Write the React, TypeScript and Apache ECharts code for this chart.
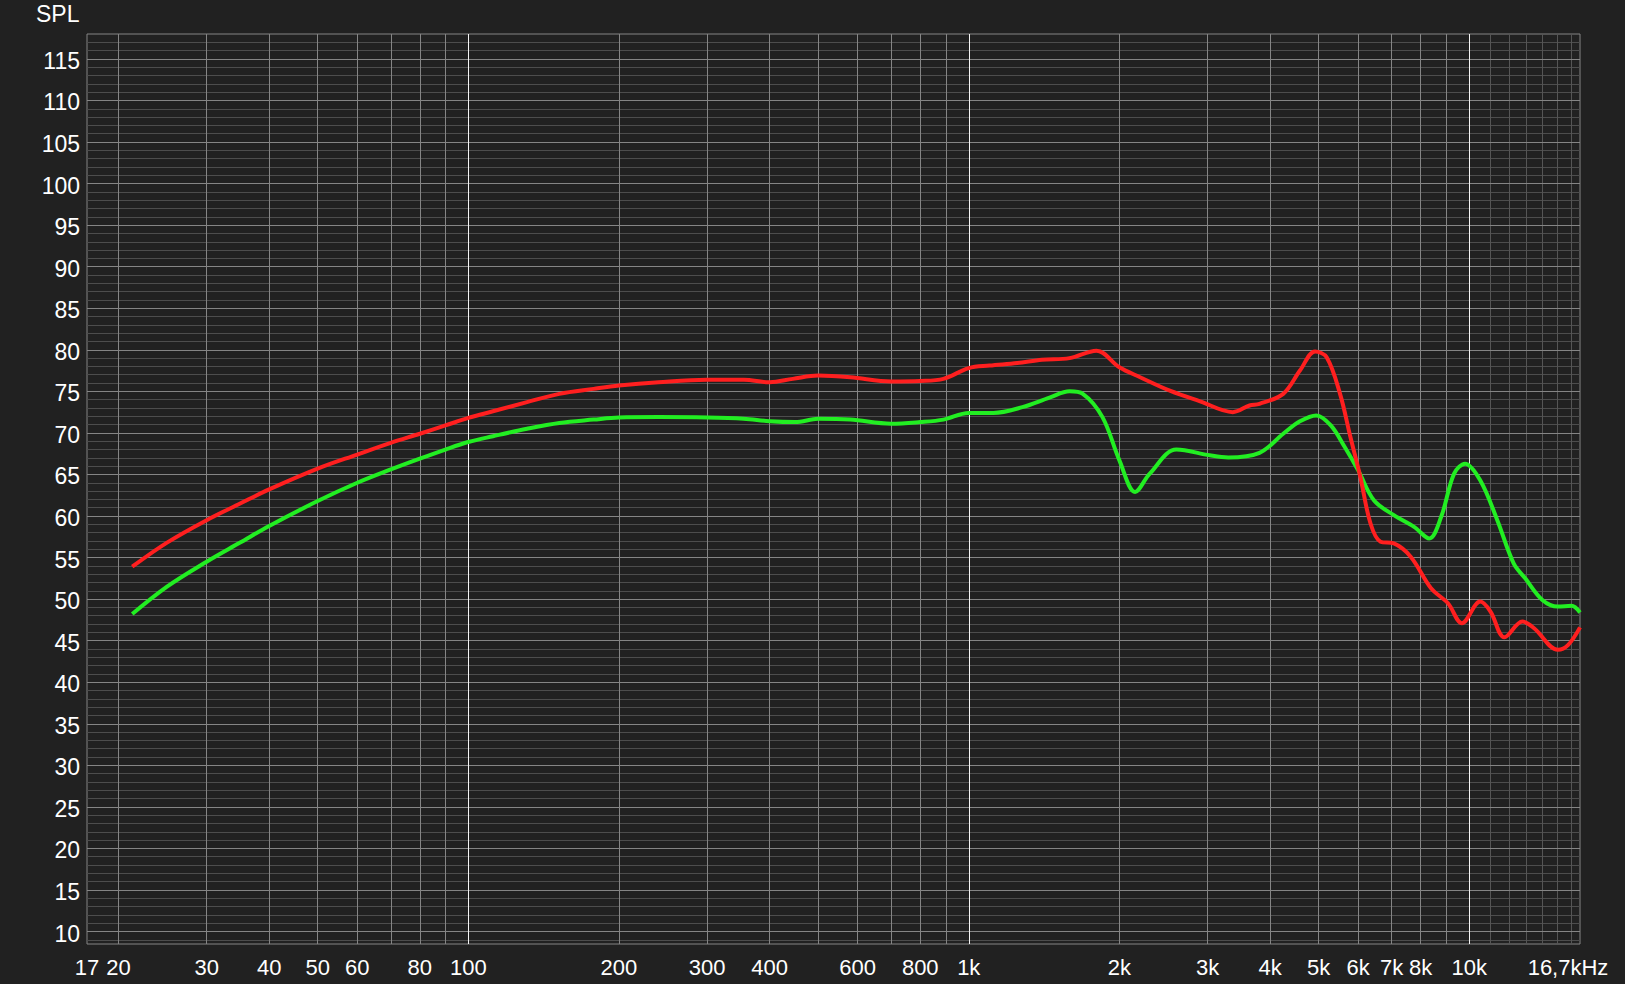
import React, { useEffect, useRef } from "react";
import * as echarts from "echarts";

// Frequency response (Hz -> dB SPL)
const FREQ_RED = [21.3, 25, 30, 35, 40, 50, 60, 70, 80, 90, 100, 112, 131, 152, 178, 200, 240, 300, 355, 400, 445, 500, 580, 700, 800, 890, 1000, 1100, 1250, 1400, 1590, 1800, 2000, 2200, 2530, 2900, 3370, 3640, 3810, 4250, 4590, 4920, 5190, 5520, 5790, 6060, 6350, 6650, 7070, 7640, 8390, 9070, 9670, 10520, 11030, 11760, 12770, 13480, 15040, 15770, 16650];
const SPL_RED = [53.9, 56.8, 59.5, 61.5, 63.2, 65.7, 67.4, 68.8, 69.9, 70.9, 71.8, 72.6, 73.7, 74.7, 75.3, 75.7, 76.1, 76.4, 76.4, 76.1, 76.5, 76.9, 76.7, 76.2, 76.25, 76.5, 77.8, 78.1, 78.4, 78.8, 79.0, 79.9, 77.9, 76.7, 75.05, 73.8, 72.5, 73.3, 73.5, 74.7, 77.5, 79.8, 79.1, 74.7, 69.5, 64.7, 59.1, 56.9, 56.7, 55.1, 51.3, 49.5, 47.1, 49.7, 48.5, 45.4, 47.3, 46.5, 43.9, 44.5, 46.6];

const FREQ_GREEN = [21.3, 25, 30, 35, 40, 50, 60, 70, 80, 90, 100, 112, 131, 152, 178, 200, 240, 300, 355, 400, 450, 500, 580, 700, 800, 890, 1000, 1120, 1280, 1450, 1590, 1690, 1850, 2000, 2150, 2300, 2600, 3030, 3300, 3810, 4250, 4590, 4950, 5290, 5640, 6000, 6450, 7070, 7760, 8320, 8790, 9330, 9810, 10520, 11380, 12270, 12940, 14000, 15040, 16010, 16650];
const SPL_GREEN = [48.2, 51.5, 54.5, 56.8, 58.8, 61.8, 64.0, 65.6, 66.9, 68.0, 68.9, 69.6, 70.5, 71.2, 71.6, 71.85, 71.9, 71.85, 71.7, 71.4, 71.3, 71.7, 71.6, 71.1, 71.3, 71.6, 72.4, 72.4, 73.1, 74.25, 75.0, 74.7, 71.9, 66.7, 62.9, 65.1, 68.0, 67.3, 67.05, 67.6, 69.9, 71.4, 72.1, 70.9, 68.3, 65.5, 61.9, 60.1, 58.7, 57.3, 59.9, 65.1, 66.3, 64.3, 59.5, 54.3, 52.5, 49.9, 49.1, 49.2, 48.4];

// Axes
const X_MIN = 17.3;
const X_MAX = 16650;
const Y_MIN = 8.5;
const Y_MAX = 118;
const Y_MAJOR = [10, 15, 20, 25, 30, 35, 40, 45, 50, 55, 60, 65, 70, 75, 80, 85, 90, 95, 100, 105, 110, 115];
const Y_MINOR = [9, 11, 12, 13, 14, 16, 17, 18, 19, 21, 22, 23, 24, 26, 27, 28, 29, 31, 32, 33, 34, 36, 37, 38, 39, 41, 42, 43, 44, 46, 47, 48, 49, 51, 52, 53, 54, 56, 57, 58, 59, 61, 62, 63, 64, 66, 67, 68, 69, 71, 72, 73, 74, 76, 77, 78, 79, 81, 82, 83, 84, 86, 87, 88, 89, 91, 92, 93, 94, 96, 97, 98, 99, 101, 102, 103, 104, 106, 107, 108, 109, 111, 112, 113, 114, 116, 117];
const X_GRID = [20, 30, 40, 50, 60, 70, 80, 90, 200, 300, 400, 500, 600, 700, 800, 900, 2000, 3000, 4000, 5000, 6000, 7000, 8000, 9000];
const X_GRID_WHITE = [100, 1000, 10000];
const X_GRID_DIM = [11000, 12000, 13000, 14000, 15000, 16000];
const X_LABEL_FREQS = [X_MIN, 20, 30, 40, 50, 60, 80, 100, 200, 300, 400, 600, 800, 1000, 2000, 3000, 4000, 5000, 6000, 7000, 8000, 10000, X_MAX];
const X_LABEL_TEXTS = ["17", "20", "30", "40", "50", "60", "80", "100", "200", "300", "400", "600", "800", "1k", "2k", "3k", "4k", "5k", "6k", "7k", "8k", "10k", "16,7kHz"];

const FONT = '"Liberation Sans", Arial, sans-serif';
const BG = "#212121";
const GRID_GRAY = "#858585";
const GRID_MINOR = "#4d4d4d";
const GRID_DIM = "#555555";

function lineSeries(name: string, values: number[], axis: "x" | "y", color: string, z: number, width = 1) {
  return {
    name,
    type: "line",
    data: [],
    silent: true,
    z,
    markLine: {
      silent: true,
      symbol: "none",
      z,
      animation: false,
      label: { show: false },
      emphasis: { disabled: true },
      lineStyle: { color, width, type: "solid" },
      data: values.map((v) => (axis === "x" ? { xAxis: v } : { yAxis: v })),
    },
  };
}

export default function App() {
  const ref = useRef<HTMLDivElement>(null);

  useEffect(() => {
    if (!ref.current) return;
    const chart = echarts.init(ref.current, undefined, { renderer: "svg" });

    const labelStyle = { color: "#ffffff", fontSize: 22, fontFamily: FONT };
    const yMajor = lineSeries("yMajor", Y_MAJOR, "y", GRID_GRAY, 2);

    const option = {
      animation: false,
      backgroundColor: BG,
      title: {
        text: "SPL",
        left: 36,
        top: 2,
        padding: 0,
        textStyle: { color: "#ffffff", fontSize: 23, fontWeight: "normal", fontFamily: FONT },
      },
      grid: {
        left: 87,
        right: 45,
        top: 34,
        bottom: 40,
        show: true,
        borderColor: GRID_GRAY,
        borderWidth: 1,
        backgroundColor: "transparent",
      },
      xAxis: {
        type: "log",
        logBase: 10,
        min: X_MIN,
        max: X_MAX,
        axisLine: { show: false },
        axisTick: { show: false },
        axisLabel: { show: false },
        splitLine: { show: false },
      },
      yAxis: {
        type: "value",
        min: Y_MIN,
        max: Y_MAX,
        axisLine: { show: false },
        axisTick: { show: false },
        axisLabel: { show: false },
        splitLine: { show: false },
      },
      series: [
        lineSeries("yMinor", Y_MINOR, "y", GRID_MINOR, 1),
        lineSeries("xDim", X_GRID_DIM, "x", GRID_DIM, 1),
        {
          ...yMajor,
          markLine: {
            ...yMajor.markLine,
            label: {
              show: true,
              position: "start",
              distance: 7,
              offset: [0, 2],
              formatter: (p: any) => String(Math.round(p.value)),
              ...labelStyle,
              fontSize: 23,
            },
          },
        },
        lineSeries("xGrid", X_GRID, "x", GRID_GRAY, 2),
        lineSeries("xWhite", X_GRID_WHITE, "x", "#f4f4f4", 2),
        {
          name: "xLabels",
          type: "line",
          data: [],
          silent: true,
          z: 2,
          markLine: {
            silent: true,
            symbol: "none",
            z: 2,
            animation: false,
            emphasis: { disabled: true },
            lineStyle: { color: "rgba(0,0,0,0)", width: 0 },
            label: { show: true, position: "start", distance: 12, ...labelStyle },
            data: X_LABEL_FREQS.map((f, i) => ({
              xAxis: f,
              label: {
                show: true,
                position: "start",
                distance: 12,
                formatter: X_LABEL_TEXTS[i],
                offset: i === X_LABEL_FREQS.length - 1 ? [-12, 0] : [0, 0],
                ...labelStyle,
              },
            })),
          },
        },
        {
          name: "Green",
          type: "line",
          z: 5,
          data: FREQ_GREEN.map((f, i) => [f, SPL_GREEN[i]]),
          smooth: 0.35,
          showSymbol: false,
          symbol: "none",
          lineStyle: { color: "#22ee22", width: 4 },
          silent: true,
        },
        {
          name: "Red",
          type: "line",
          z: 6,
          data: FREQ_RED.map((f, i) => [f, SPL_RED[i]]),
          smooth: 0.35,
          showSymbol: false,
          symbol: "none",
          lineStyle: { color: "#ff1f1f", width: 4 },
          silent: true,
        },
      ],
    };

    chart.setOption(option as any);
    return () => chart.dispose();
  }, []);

  return (
    <div
      ref={ref}
      style={{ position: "fixed", left: 0, top: 0, width: 1625, height: 984, background: BG }}
    />
  );
}
